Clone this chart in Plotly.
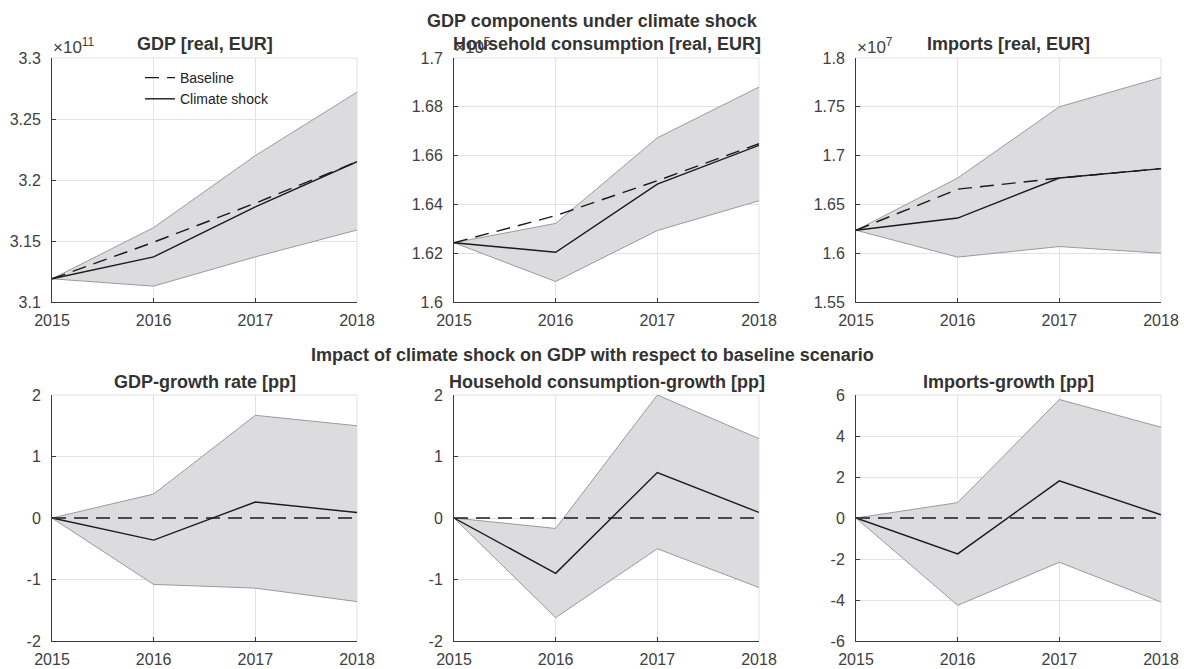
import plotly.graph_objects as go

years = [2015, 2016, 2017, 2018]

# Levels (top row)
gdp_base = [3.119, 3.149, 3.181, 3.215]
gdp_shock = [3.119, 3.137, 3.178, 3.215]
gdp_hi = [3.119, 3.161, 3.220, 3.272]
gdp_lo = [3.119, 3.113, 3.137, 3.159]

hc_base = [1.6243, 1.6354, 1.6497, 1.6649]
hc_shock = [1.6243, 1.6204, 1.6483, 1.6642]
hc_hi = [1.6243, 1.6322, 1.6673, 1.6881]
hc_lo = [1.6243, 1.6084, 1.6293, 1.6415]

imp_base = [1.6235, 1.6656, 1.6770, 1.6867]
imp_shock = [1.6235, 1.6360, 1.6770, 1.6867]
imp_hi = [1.6235, 1.6770, 1.7500, 1.7800]
imp_lo = [1.6235, 1.5960, 1.6068, 1.6000]

# Growth differences (bottom row)
gdpg_base = [0, 0, 0, 0]
gdpg_shock = [0, -0.36, 0.26, 0.09]
gdpg_hi = [0, 0.39, 1.67, 1.50]
gdpg_lo = [0, -1.08, -1.14, -1.36]

hcg_base = [0, 0, 0, 0]
hcg_shock = [0, -0.90, 0.74, 0.09]
hcg_hi = [0, -0.17, 2.00, 1.29]
hcg_lo = [0, -1.62, -0.50, -1.13]

impg_base = [0, 0, 0, 0]
impg_shock = [0, -1.75, 1.81, 0.16]
impg_hi = [0, 0.75, 5.78, 4.43]
impg_lo = [0, -4.26, -2.16, -4.10]

panels = [
    dict(title="GDP [real, EUR]", base=gdp_base, shock=gdp_shock, hi=gdp_hi, lo=gdp_lo,
         yr=[3.1, 3.3], dt=0.05),
    dict(title="Household consumption [real, EUR]", base=hc_base, shock=hc_shock, hi=hc_hi, lo=hc_lo,
         yr=[1.6, 1.7], dt=0.02),
    dict(title="Imports [real, EUR]", base=imp_base, shock=imp_shock, hi=imp_hi, lo=imp_lo,
         yr=[1.55, 1.8], dt=0.05),
    dict(title="GDP-growth rate [pp]", base=gdpg_base, shock=gdpg_shock, hi=gdpg_hi, lo=gdpg_lo,
         yr=[-2, 2], dt=1),
    dict(title="Household consumption-growth [pp]", base=hcg_base, shock=hcg_shock, hi=hcg_hi, lo=hcg_lo,
         yr=[-2, 2], dt=1),
    dict(title="Imports-growth [pp]", base=impg_base, shock=impg_shock, hi=impg_hi, lo=impg_lo,
         yr=[-6, 6], dt=2),
]

W, H = 1184, 669
col_px = [(52, 357), (454, 759), (856, 1161)]
row_px = [(58, 302), (395, 641)]
title_px = [44, 382]

FONT = "Liberation Sans, Arial, sans-serif"
TXT = "#333333"
TICK = "#404040"
FILL = "#dcdcde"
EDGE = "#9a9a9a"
GRID = "#e2e2e2"
AX = "#3a3a3a"

fig = go.Figure()
layout = dict()
annotations = []
shapes = []

for i, p in enumerate(panels):
    r, c = divmod(i, 3)
    n = i + 1
    xa = "x" if n == 1 else f"x{n}"
    ya = "y" if n == 1 else f"y{n}"
    x0, x1 = col_px[c]
    y0, y1 = row_px[r]
    xdom = [x0 / W, x1 / W]
    ydom = [1 - y1 / H, 1 - y0 / H]

    # uncertainty band
    fig.add_trace(go.Scatter(x=years, y=p["lo"], mode="lines", line=dict(color=EDGE, width=1),
                             xaxis=xa, yaxis=ya, showlegend=False, hoverinfo="skip"))
    fig.add_trace(go.Scatter(x=years, y=p["hi"], mode="lines", line=dict(color=EDGE, width=1),
                             fill="tonexty", fillcolor=FILL,
                             xaxis=xa, yaxis=ya, showlegend=False, hoverinfo="skip"))
    fig.add_trace(go.Scatter(x=years, y=p["base"], mode="lines", name="Baseline",
                             line=dict(color="#1a1a1a", width=1.4, dash="14px,8px"),
                             xaxis=xa, yaxis=ya, showlegend=(i == 0)))
    fig.add_trace(go.Scatter(x=years, y=p["shock"], mode="lines", name="Climate shock",
                             line=dict(color="#1a1a1a", width=1.4),
                             xaxis=xa, yaxis=ya, showlegend=(i == 0)))

    lo, hi = p["yr"]
    nt = int(round((hi - lo) / p["dt"]))
    tv = [round(lo + k * p["dt"], 6) for k in range(nt + 1)]
    tt = [("%g" % v) for v in tv]

    layout["xaxis" if n == 1 else f"xaxis{n}"] = dict(
        domain=xdom, anchor=ya, range=[2015, 2018], tickvals=years, ticktext=[str(y) for y in years],
        showgrid=True, gridcolor=GRID, gridwidth=1, zeroline=False, automargin=False,
        showline=True, linecolor=AX, linewidth=1, ticks="inside", ticklen=4, tickcolor=AX,
        ticklabelstandoff=4,
        tickfont=dict(family=FONT, size=16, color=TICK), fixedrange=True,
    )
    layout["yaxis" if n == 1 else f"yaxis{n}"] = dict(
        domain=ydom, anchor=xa, range=[lo, hi], tickvals=tv, ticktext=tt,
        showgrid=True, gridcolor=GRID, gridwidth=1, zeroline=False, automargin=False,
        showline=True, linecolor=AX, linewidth=1, ticks="inside", ticklen=4, tickcolor=AX,
        ticklabelstandoff=7,
        tickfont=dict(family=FONT, size=16, color=TICK), fixedrange=True,
    )

    # light frame on top and right edges
    shapes.append(dict(type="line", xref=f"{xa} domain", yref=f"{ya} domain", x0=0, x1=1, y0=1, y1=1,
                       line=dict(color=GRID, width=1), layer="below"))
    shapes.append(dict(type="line", xref=f"{xa} domain", yref=f"{ya} domain", x0=1, x1=1, y0=0, y1=1,
                       line=dict(color=GRID, width=1), layer="below"))

    # panel title
    annotations.append(dict(text=f"<b>{p['title']}</b>", xref="paper", yref="paper",
                            x=(x0 + x1) / 2 / W, y=1 - title_px[r] / H, xanchor="center", yanchor="middle",
                            showarrow=False, font=dict(family=FONT, size=18, color=TXT)))

# exponent labels for the level panels
for c, e in zip(range(3), ["11", "5", "7"]):
    annotations.append(dict(text=f"\u00d710<sup>{e}</sup>", xref="paper", yref="paper",
                            x=(col_px[c][0] - 1) / W, y=1 - 46 / H, xanchor="left", yanchor="middle",
                            showarrow=False, font=dict(family=FONT, size=17, color=TICK)))

# row headings
annotations.append(dict(text="<b>GDP components under climate shock</b>", xref="paper", yref="paper",
                        x=0.5, y=1 - 21 / H, xanchor="center", yanchor="middle", showarrow=False,
                        font=dict(family=FONT, size=18, color=TXT)))
annotations.append(dict(text="<b>Impact of climate shock on GDP with respect to baseline scenario</b>",
                        xref="paper", yref="paper", x=0.5, y=1 - 355 / H, xanchor="center", yanchor="middle",
                        showarrow=False, font=dict(family=FONT, size=18, color=TXT)))

fig.update_layout(
    width=W, height=H, margin=dict(l=0, r=0, t=0, b=0, autoexpand=False),
    paper_bgcolor="white", plot_bgcolor="white",
    annotations=annotations, shapes=shapes,
    legend=dict(x=140 / W, y=1 - 62 / H, xanchor="left", yanchor="top", bgcolor="rgba(0,0,0,0)",
                traceorder="normal",
                font=dict(family=FONT, size=14, color="#222222"), tracegroupgap=0, itemwidth=30),
    **layout,
)

fig.write_html("out.html")
